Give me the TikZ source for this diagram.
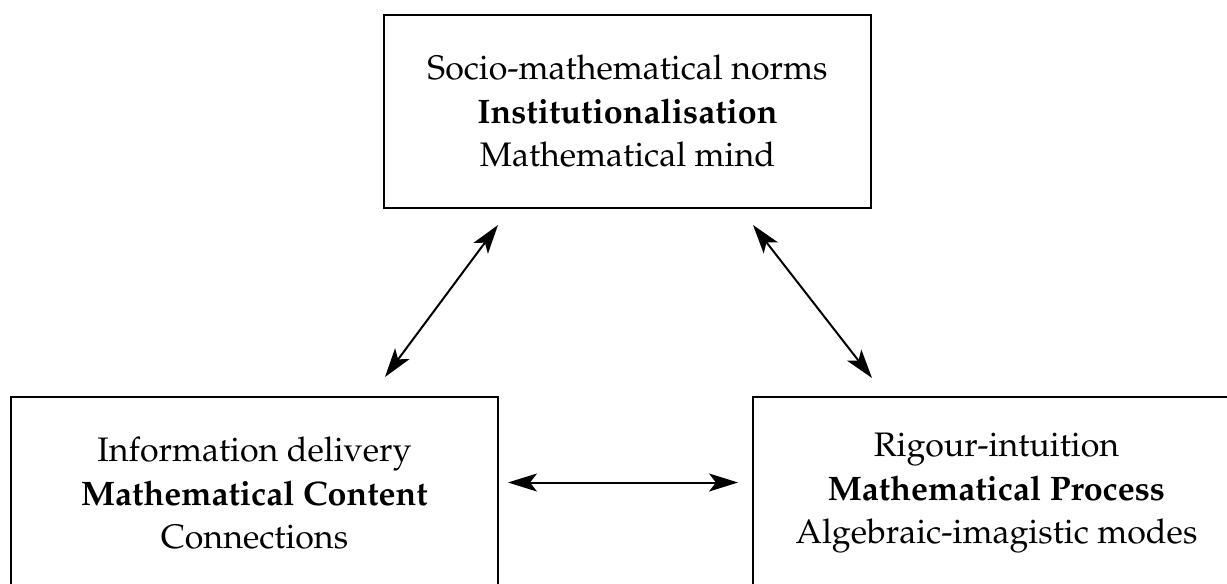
\documentclass[tikz,border=0pt]{standalone}
\usepackage[T1]{fontenc}
\usepackage{mathpazo}
\usetikzlibrary{arrows.meta}
\begin{document}
\begin{tikzpicture}[x=1pt,y=-1pt,
  box/.style={draw,line width=1.6pt,inner sep=0pt,align=center,
    minimum width=487pt,minimum height=193pt,
    font=\fontsize{34}{43.5}\selectfont},
  tip/.style={Stealth[length=29pt,width=18pt,inset=7pt]},
  link/.style={line width=2pt,{Stealth[length=29pt,width=18pt,inset=7pt]}-{Stealth[length=29pt,width=18pt,inset=7pt]}}]
\useasboundingbox (0,0) rectangle (1227,584);
\node[box] (top) at (627.5,111.5)
  {Socio-mathematical norms\\\textbf{Institutionalisation}\\Mathematical mind};
\node[box] (left) at (254.5,493.5)
  {Information delivery\\\textbf{Mathematical Content}\\Connections};
\node[box] (right) at (996.5,493.5)
  {Rigour-intuition\\\textbf{Mathematical Process}\\Algebraic-imagistic modes};
\coordinate (a1) at (385,377);
\coordinate (a2) at (498,225);
\coordinate (b1) at (753,225);
\coordinate (b2) at (872,378);
\coordinate (c1) at (508,482.5);
\coordinate (c2) at (738,482.5);
\draw[link] (a1) -- (a2);
\draw[link] (b1) -- (b2);
\draw[link] (c1) -- (c2);
\end{tikzpicture}
\end{document}
